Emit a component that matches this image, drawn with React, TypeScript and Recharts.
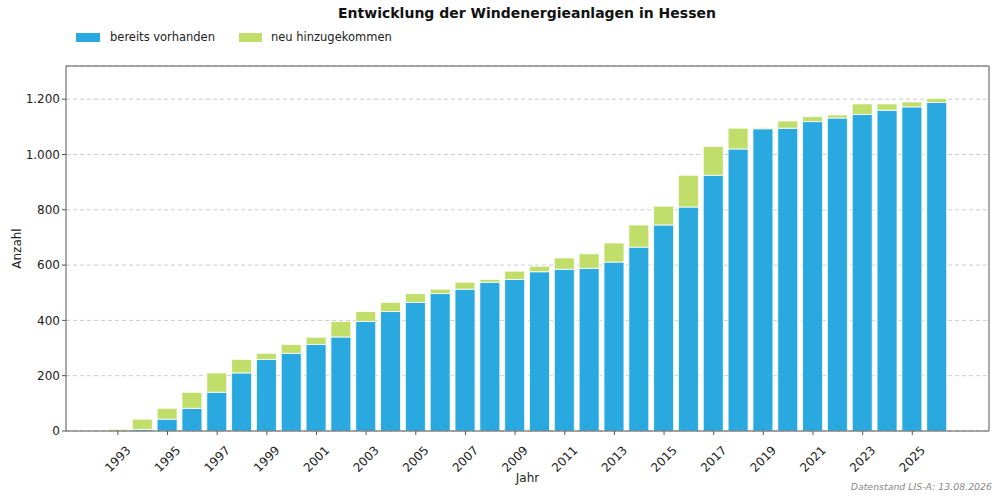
import React from 'react';
import { Bar, BarChart, CartesianGrid, ReferenceLine, XAxis, YAxis } from 'recharts';

const years = [
  1993, 1994, 1995, 1996, 1997, 1998, 1999, 2000, 2001, 2002, 2003, 2004, 2005, 2006, 2007, 2008, 2009,
  2010, 2011, 2012, 2013, 2014, 2015, 2016, 2017, 2018, 2019, 2020, 2021, 2022, 2023, 2024, 2025, 2026
];
const vorhanden = [
  0, 6, 43, 82, 140, 210, 259, 281, 313, 340, 396, 432, 465, 497, 513, 538, 548,
  576, 585, 588, 611, 665, 745, 810, 925, 1020, 1093, 1095, 1119, 1132, 1145, 1160, 1172, 1188
];
const neu = [
  6, 37, 39, 58, 70, 49, 22, 32, 26, 56, 36, 33, 32, 16, 25, 10, 30,
  20, 41, 53, 69, 80, 68, 115, 104, 75, 4, 26, 18, 11, 38, 23, 18, 15
];
const xTicks = [1993, 1995, 1997, 1999, 2001, 2003, 2005, 2007, 2009, 2011, 2013, 2015, 2017, 2019, 2021, 2023, 2025];
const yTicks = [0, 200, 400, 600, 800, 1000, 1200];
const xDomain: [number, number] = [1990.91, 2028.09];
const yDomain: [number, number] = [0, 1320];

const BLUE = '#29a9e0';
const GREEN = '#c1de6b';
const AXIS = '#555';
const FONT = '"DejaVu Sans", sans-serif';

const data = years.map((year, i) => ({ year, vorhanden: vorhanden[i], neu: neu[i] }));

const fmt = (v: number) => v.toLocaleString('de-DE');

function YearTick({ x, y, payload }: any) {
  const cy = y + 22;
  return (
    <text
      x={x}
      y={cy}
      textAnchor="middle"
      dominantBaseline="central"
      transform={`rotate(-45, ${x}, ${cy})`}
      fontSize={12}
      fontFamily={FONT}
      fill="#222"
    >
      {payload.value}
    </text>
  );
}

export default function App() {
  return (
    <div style={{ position: 'absolute', left: 0, top: 0, width: 1000, height: 501, background: '#fff', fontFamily: FONT }}>
      <div
        style={{
          position: 'absolute',
          top: 5,
          left: 0,
          width: 1054,
          textAlign: 'center',
          fontWeight: 'bold',
          fontSize: 14,
          color: '#111'
        }}
      >
        Entwicklung der Windenergieanlagen in Hessen
      </div>
      <div style={{ position: 'absolute', top: 30, left: 76, display: 'flex', alignItems: 'center', fontSize: 11.5, color: '#222' }}>
        <span style={{ display: 'inline-block', width: 24, height: 9, background: BLUE, marginRight: 10 }} />
        <span style={{ marginRight: 24 }}>bereits vorhanden</span>
        <span style={{ display: 'inline-block', width: 23, height: 9, background: GREEN, marginRight: 9 }} />
        <span>neu hinzugekommen</span>
      </div>
      <BarChart
        width={1000}
        height={501}
        data={data}
        margin={{ top: 66, right: 11, bottom: 0, left: 0 }}
        style={{ position: 'absolute', left: 0, top: 0 }}
      >
        <CartesianGrid horizontal vertical={false} stroke="#cccccc" strokeDasharray="4 3" />
        <XAxis
          dataKey="year"
          type="number"
          domain={xDomain}
          ticks={xTicks}
          interval={0}
          allowDataOverflow
          height={70}
          stroke={AXIS}
          tickSize={4}
          tick={<YearTick />}
          label={{ value: 'Jahr', position: 'insideBottom', offset: 19, fontSize: 12, fill: '#222', fontFamily: FONT }}
        />
        <YAxis
          type="number"
          domain={yDomain}
          ticks={yTicks}
          allowDataOverflow
          width={66}
          stroke={AXIS}
          tickSize={4}
          tickFormatter={fmt}
          tick={{ fontSize: 12, fill: '#222', fontFamily: FONT }}
          label={{ value: 'Anzahl', angle: -90, position: 'insideLeft', offset: 17, fontSize: 12, fill: '#222', fontFamily: FONT, style: { textAnchor: 'middle' } }}
        />
        <Bar dataKey="vorhanden" stackId="a" fill={BLUE} stroke="#fff" strokeWidth={0.8} barSize={20} isAnimationActive={false} />
        <Bar dataKey="neu" stackId="a" fill={GREEN} stroke="#fff" strokeWidth={0.8} barSize={20} isAnimationActive={false} />
        <ReferenceLine y={yDomain[1]} stroke={AXIS} ifOverflow="visible" />
        <ReferenceLine x={xDomain[1]} stroke={AXIS} ifOverflow="visible" />
      </BarChart>
      <div
        style={{
          position: 'absolute',
          right: 8,
          top: 481,
          fontSize: 9.4,
          fontStyle: 'italic',
          color: '#888'
        }}
      >
        Datenstand LIS-A: 13.08.2026
      </div>
    </div>
  );
}
